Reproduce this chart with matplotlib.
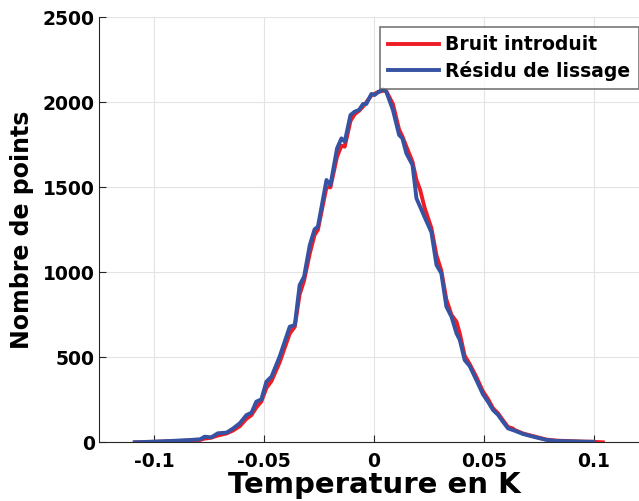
import numpy as np
import matplotlib
matplotlib.use('Agg')
import matplotlib.pyplot as plt

plt.rcParams['font.family'] = ['DejaVu Sans']
plt.rcParams['font.weight'] = 'bold'

# values
blue_x = [-0.1088, -0.0997, -0.0906, -0.083, -0.079, -0.077, -0.074, -0.071,
          -0.067, -0.064, -0.061, -0.058, -0.0557, -0.0535, -0.0512, -0.0489,
          -0.0466, -0.0429, -0.0383, -0.036, -0.0338, -0.0318, -0.0292, -0.027,
          -0.0255, -0.0216, -0.0198, -0.0168, -0.0148, -0.0133, -0.0107, -0.0088,
          -0.0068, -0.005, -0.0035, -0.0012, 0.0003, 0.0018, 0.0041, 0.0056,
          0.0086, 0.0114, 0.0129, 0.0147, 0.0175, 0.0193, 0.023, 0.0261,
          0.0284, 0.0306, 0.0329, 0.0352, 0.0375, 0.039, 0.0412, 0.0435,
          0.0465, 0.0495, 0.0518, 0.0541, 0.0564, 0.0586, 0.0609, 0.064,
          0.0677, 0.073, 0.0784, 0.0829, 0.089, 0.095, 0.0995]
blue_y = [0, 4, 9, 14, 18, 33, 29, 53,
          57, 82, 112, 160, 174, 239, 253, 357,
          386, 504, 680, 690, 925, 974, 1160, 1253,
          1268, 1543, 1513, 1729, 1788, 1768, 1925, 1945,
          1955, 1990, 1990, 2049, 2043, 2059, 2078, 2062,
          1955, 1808, 1788, 1700, 1631, 1435, 1325, 1235,
          1043, 994, 798, 739, 641, 602, 484, 448,
          367, 283, 239, 190, 161, 121, 82, 68,
          49, 31, 14, 8, 6, 4, 3]

red_x = [-0.1085, -0.0997, -0.0906, -0.083, -0.079, -0.077, -0.074, -0.071,
         -0.067, -0.064, -0.061, -0.058, -0.0557, -0.0535, -0.0512, -0.0489,
         -0.0466, -0.0429, -0.0383, -0.036, -0.0338, -0.0318, -0.0292, -0.027,
         -0.0255, -0.0216, -0.0198, -0.0168, -0.0148, -0.0133, -0.0107, -0.0088,
         -0.0068, -0.005, -0.0035, -0.0012, 0.0003, 0.0018, 0.0041, 0.0056,
         0.0086, 0.0114, 0.0129, 0.0147, 0.0175, 0.0193, 0.021, 0.023,
         0.0261, 0.0284, 0.0306, 0.0329, 0.0352, 0.0375, 0.039, 0.0412,
         0.0435, 0.0465, 0.0495, 0.0518, 0.0541, 0.0564, 0.0586, 0.0609,
         0.063, 0.064, 0.0677, 0.073, 0.0784, 0.0829, 0.089, 0.095,
         0.0995, 0.104]
red_y = [0, 3, 7, 11, 14, 22, 27, 40,
         52, 70, 95, 138, 160, 205, 240, 320,
         360, 470, 640, 680, 870, 950, 1110, 1220,
         1250, 1500, 1500, 1680, 1745, 1739, 1890, 1930,
         1950, 1975, 2000, 2040, 2050, 2060, 2068, 2065,
         1990, 1840, 1800, 1740, 1650, 1543, 1484, 1380,
         1260, 1100, 1010, 840, 750, 709, 640, 510,
         460, 385, 300, 255, 200, 170, 130, 90,
         82, 72, 52, 34, 16, 10, 7, 4,
         3, 0]

labels = ['Bruit introduit', 'Résidu de lissage']
xticks = [-0.1, -0.05, 0, 0.05, 0.1]
xtick_labels = ['-0.1', '-0.05', '0', '0.05', '0.1']
yticks = [0, 500, 1000, 1500, 2000, 2500]

fig = plt.figure(figsize=(6.39, 5.01), dpi=100)
ax = fig.add_axes([99 / 639, (501 - 442.3) / 501, 550 / 639, 425 / 501])

ax.plot(red_x, red_y, color='#ee1c24', lw=2.8, label=labels[0])
ax.plot(blue_x, blue_y, color='#3653a3', lw=2.8, label=labels[1])

ax.set_xlim(-0.125, 0.125)
ax.set_ylim(0, 2500)
ax.set_xticks(xticks)
ax.set_xticklabels(xtick_labels)
ax.set_yticks(yticks)
ax.grid(True, color='#e3e3e3', lw=0.8)
ax.set_axisbelow(True)

for side in ['top', 'right']:
    ax.spines[side].set_visible(False)
for side in ['left', 'bottom']:
    ax.spines[side].set_color('#262626')
    ax.spines[side].set_linewidth(0.8)
ax.tick_params(direction='in', length=5, width=0.8, color='#262626',
               labelsize=13.5)
ax.tick_params(axis='y', pad=3)
ax.tick_params(axis='x', pad=7)

ax.set_xlabel('Temperature en K', fontsize=21, fontweight='bold', labelpad=0)
ax.set_ylabel('Nombre de points', fontsize=17, fontweight='bold', labelpad=6)

leg = ax.legend(loc='upper right', bbox_to_anchor=(639 / 639, (501 - 27) / 501),
                bbox_transform=fig.transFigure, fontsize=13.5, frameon=True,
                fancybox=False, handlelength=2.7, handletextpad=0.35,
                borderpad=0.45, labelspacing=0.35, borderaxespad=0)
leg.get_frame().set_edgecolor('#555555')
leg.get_frame().set_linewidth(1.2)
for t in leg.get_texts():
    t.set_fontweight('bold')

fig.savefig('out.png', dpi=100)
